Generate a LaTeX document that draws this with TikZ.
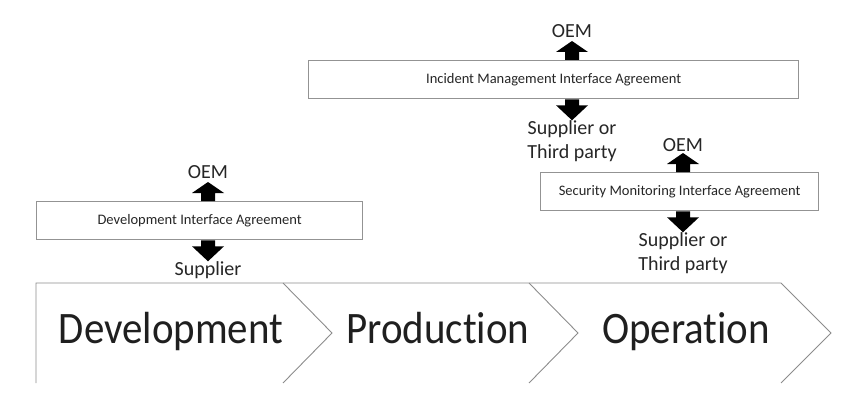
\documentclass[tikz,border=0pt]{standalone}
\usepackage{fontspec}
\setmainfont{Carlito}[Ligatures=NoCommon]
\newfontfamily\phasefont{Carlito}[FakeStretch=0.91,Ligatures=NoCommon]
\begin{document}
\begin{tikzpicture}[x=1pt,y=-1pt,
  agree/.style={draw=gray!85,line width=1.3pt,fill=white,inner sep=0pt,anchor=north west,font=\fontsize{14.5}{17}\selectfont,text=black!85},
  lbl/.style={font=\fontsize{20}{24}\selectfont,text=black!85,inner sep=0pt,align=center},
  phase/.style={font=\phasefont\fontsize{45}{50}\selectfont,text=black!88,inner sep=0pt,anchor=base},
  band/.style={draw=gray!90,line width=0.9pt},
  uparr/.pic={\fill[black] (-7,0) -- (-7,-8) -- (-16,-8) -- (0,-19) -- (16,-8) -- (7,-8) -- (7,0) -- cycle;},
  downarr/.pic={\fill[black] (-7,0) -- (-7,6) -- (-16,6) -- (0,21) -- (16,6) -- (7,6) -- (7,0) -- cycle;}
]
\useasboundingbox (0,0) rectangle (859,409);

% process band
\coordinate (b0) at (36,383);
\coordinate (b1) at (36,283);
\coordinate (c3t) at (781,283);
\coordinate (c3p) at (831,333);
\coordinate (c3b) at (781,383);
\coordinate (c1t) at (283,283);
\coordinate (c1p) at (332,333);
\coordinate (c1b) at (283,383);
\coordinate (c2t) at (529,283);
\coordinate (c2p) at (578,333);
\coordinate (c2b) at (529,383);
\draw[band] (b0) -- (b1) -- (c3t) -- (c3p) -- (c3b);
\draw[band] (c1t) -- (c1p) -- (c1b);
\draw[band] (c2t) -- (c2p) -- (c2b);

\node[phase] (dev) at (171,343) {Development};
\node[phase] (prod) at (438,343) {Production};
\node[phase] (oper) at (686,343) {Operation};

% Development interface agreement
\node[agree,minimum width=326pt,minimum height=38pt] (dia) at (36,201) {Development Interface Agreement};
\node[lbl] (diaoem) at (208,172) {OEM};
\node[lbl] (diasup) at (208,270) {Supplier};
\path (dia.north -| diaoem) pic {uparr};
\path (dia.south -| diasup) pic {downarr};

% Incident management interface agreement
\node[agree,minimum width=490pt,minimum height=38pt] (imia) at (308,60) {Incident Management Interface Agreement};
\node[lbl] (imiaoem) at (572,31) {OEM};
\node[lbl] (imiasup) at (572,141) {Supplier or\\Third party};
\path (imia.north -| imiaoem) pic {uparr};
\path (imia.south -| imiasup) pic {downarr};

% Security monitoring interface agreement
\node[agree,minimum width=278pt,minimum height=38pt] (smia) at (540,172) {Security Monitoring Interface Agreement};
\node[lbl] (smiaoem) at (683,145) {OEM};
\node[lbl] (smiasup) at (683,253) {Supplier or\\Third party};
\path (smia.north -| smiaoem) pic {uparr};
\path (smia.south -| smiasup) pic {downarr};
\end{tikzpicture}
\end{document}
